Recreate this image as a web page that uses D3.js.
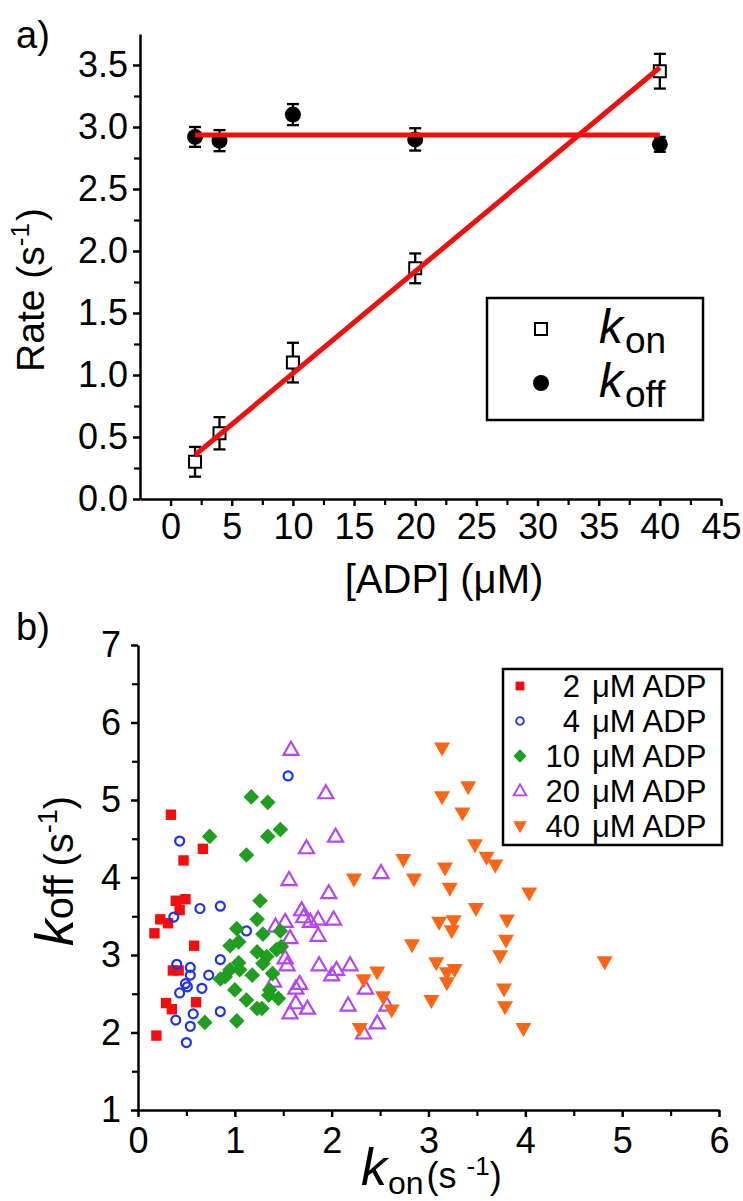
<!DOCTYPE html>
<meta charset="utf-8">
<style>
  body { margin: 0; background: #fff; }
  svg { display: block; font-family: "Liberation Sans", Arial, Helvetica, sans-serif; }
</style>
<svg width="743" height="1201"></svg>
<script src="https://d3js.org/d3.v7.min.js"></script>
<script>
// panel a: rates vs [ADP]
var adp = [2, 4, 10, 20, 40]
var konRate = [0.30, 0.53, 1.10, 1.86, 3.45]
var konErr = [0.12, 0.13, 0.16, 0.12, 0.14]
var koffRate = [2.92, 2.89, 3.10, 2.90, 2.86]
var koffErr = [0.08, 0.085, 0.085, 0.09, 0.06]
var konFit = [[2, 0.355], [40, 3.48]]
var koffFit = [[2, 2.935], [40, 2.935]]

// panel b: single-molecule kon / koff pairs per [ADP]
var adpLabels = ['2', '4', '10', '20', '40']
var pts2 = [[0.34,4.81],[0.67,4.37],[0.47,4.22],[0.39,3.70],[0.49,3.72],[0.43,3.58],[0.23,3.46],[0.31,3.41],
  [0.17,3.28],[0.58,3.12],[0.36,2.80],[0.42,2.80],[0.29,2.38],[0.35,2.30],[0.60,2.39],[0.19,1.96]]
var pts4 = [[1.55,5.31],[0.43,4.47],[0.37,3.49],[0.64,3.60],[0.85,3.63],[1.12,3.31],[0.40,2.88],[0.54,2.84],
  [0.54,2.74],[0.73,2.74],[0.85,2.94],[0.49,2.63],[0.51,2.59],[0.43,2.51],[0.66,2.57],[0.57,2.24],
  [0.85,2.27],[0.39,2.16],[0.54,2.08],[0.50,1.87]]
var pts10 = [[1.17,5.04],[1.34,4.97],[0.74,4.53],[1.12,4.29],[1.34,4.53],[1.47,4.62],[1.26,3.70],[1.23,3.46],
  [1.02,3.34],[1.29,3.27],[1.47,3.31],[0.95,3.12],[1.04,3.17],[1.23,3.04],[1.33,2.98],[1.43,3.07],
  [1.48,3.11],[1.29,2.89],[1.04,2.90],[0.95,2.81],[0.90,2.72],[1.05,2.81],[1.18,2.74],[1.39,2.76],
  [0.85,2.69],[1.00,2.55],[1.12,2.42],[1.23,2.31],[1.28,2.31],[1.36,2.55],[1.35,2.48],[1.45,2.44],
  [0.69,2.13],[1.02,2.15]]
var pts20 = [[1.58,5.65],[1.94,5.09],[1.74,4.38],[2.04,4.53],[1.56,3.97],[2.51,4.06],[1.97,3.80],[1.69,3.58],
  [1.71,3.49],[1.78,3.43],[1.86,3.46],[2.02,3.46],[1.86,3.25],[1.57,3.22],[1.52,3.43],[1.42,3.37],
  [1.52,2.96],[1.54,2.87],[1.87,2.87],[2.00,2.74],[2.05,2.81],[2.19,2.87],[2.35,2.57],[1.67,2.63],
  [1.63,2.57],[1.63,2.38],[1.75,2.31],[1.57,2.25],[2.17,2.35],[2.47,2.12],[2.33,1.99],[2.57,2.35],
  [1.40,2.66]]
var pts40 = [[3.14,5.67],[3.41,5.17],[3.14,5.04],[3.35,4.83],[3.48,4.42],[3.60,4.26],[3.69,4.16],[2.74,4.23],
  [3.17,4.12],[2.23,3.98],[2.85,3.98],[3.22,3.86],[4.04,3.80],[3.49,3.60],[3.81,3.45],[3.11,3.42],
  [3.26,3.44],[3.24,3.31],[3.80,3.19],[2.83,3.13],[3.74,2.99],[3.08,2.90],[3.27,2.81],[3.19,2.77],
  [3.19,2.64],[4.82,2.91],[3.78,2.56],[3.03,2.41],[3.79,2.33],[3.98,2.05],[2.47,2.78],[2.33,2.68],
  [2.53,2.46],[2.62,2.29],[2.29,2.05]]

var svg = d3.select('svg')
var red = '#f50d0d', blue = '#1f34e6', green = '#1f9e1f', purple = '#b445f0', orange = '#fb6616'

function square(s) { return 'M' + (-s) + ',' + (-s) + 'H' + s + 'V' + s + 'H' + (-s) + 'Z' }
function diamond(s) { return 'M0,' + (-s) + 'L' + s + ',0L0,' + s + 'L' + (-s) + ',0Z' }
function triUp(w, h) { return 'M0,' + (-h * 0.6) + 'L' + (w / 2) + ',' + (h * 0.4) + 'L' + (-w / 2) + ',' + (h * 0.4) + 'Z' }
function triDown(w, h) { return 'M0,' + (h * 0.6) + 'L' + (w / 2) + ',' + (-h * 0.4) + 'L' + (-w / 2) + ',' + (-h * 0.4) + 'Z' }

function styleAxis(g) {
  g.attr('font-size', 36).attr('font-family', null)
  g.select('.domain').attr('stroke-width', 2.5).attr('stroke', '#000')
  g.selectAll('.tick line').attr('stroke-width', 2.5).attr('stroke', '#000')
  g.selectAll('.tick text').attr('fill', '#000')
}
function minor(g) {
  g.select('.domain').remove()
  g.selectAll('.tick line').attr('stroke-width', 2.2).attr('stroke', '#000')
}

// ---------- panel a ----------
var xA = d3.scaleLinear().domain([-2.5, 45]).range([140, 721])
var yA = d3.scaleLinear().domain([0, 3.75]).range([499, 34])

svg.append('g').attr('transform', 'translate(0,499)')
  .call(d3.axisBottom(xA).tickValues(d3.range(2.5, 45, 5)).tickFormat('').tickSize(6)).call(minor)
svg.append('g').attr('transform', 'translate(140,0)')
  .call(d3.axisLeft(yA).tickValues(d3.range(0.25, 3.75, 0.5)).tickFormat('').tickSize(6)).call(minor)
svg.append('g').attr('transform', 'translate(0,499)')
  .call(d3.axisBottom(xA).tickValues(d3.range(0, 46, 5)).tickSize(7).tickSizeOuter(0).tickPadding(7))
  .call(styleAxis)
svg.append('g').attr('transform', 'translate(140,0)')
  .call(d3.axisLeft(yA).tickValues(d3.range(0, 3.6, 0.5)).tickFormat(d3.format('.1f')).tickSize(7).tickSizeOuter(0).tickPadding(5))
  .call(styleAxis)

var errG = svg.append('g').attr('stroke', '#000').attr('stroke-width', 2.3)
function errorBars(vals, errs) {
  adp.forEach(function (x, i) {
    var cx = xA(x), lo = yA(vals[i] - errs[i]), hi = yA(vals[i] + errs[i])
    errG.append('line').attr('x1', cx).attr('x2', cx).attr('y1', lo).attr('y2', hi)
    errG.append('line').attr('x1', cx - 6).attr('x2', cx + 6).attr('y1', lo).attr('y2', lo)
    errG.append('line').attr('x1', cx - 6).attr('x2', cx + 6).attr('y1', hi).attr('y2', hi)
  })
}
errorBars(konRate, konErr)
errorBars(koffRate, koffErr)

svg.append('g').selectAll('path').data(adp).enter().append('path')
  .attr('d', square(6))
  .attr('transform', function (d, i) { return 'translate(' + xA(d) + ',' + yA(konRate[i]) + ')' })
  .attr('fill', '#fff').attr('stroke', '#000').attr('stroke-width', 2)
svg.append('g').selectAll('circle').data(adp).enter().append('circle')
  .attr('cx', function (d) { return xA(d) })
  .attr('cy', function (d, i) { return yA(koffRate[i]) })
  .attr('r', 8).attr('fill', '#000')

var line = d3.line().x(function (d) { return xA(d[0]) }).y(function (d) { return yA(d[1]) })
svg.append('path').attr('d', line(konFit)).attr('stroke', red).attr('stroke-width', 5).attr('fill', 'none')
svg.append('path').attr('d', line(koffFit)).attr('stroke', red).attr('stroke-width', 5).attr('fill', 'none')

// legend a
var legA = svg.append('g')
legA.append('rect').attr('x', 487).attr('y', 298).attr('width', 216).attr('height', 122)
  .attr('fill', '#fff').attr('stroke', '#000').attr('stroke-width', 2.5)
legA.append('path').attr('d', square(6)).attr('transform', 'translate(541,329)')
  .attr('fill', '#fff').attr('stroke', '#000').attr('stroke-width', 2)
legA.append('circle').attr('cx', 541).attr('cy', 383).attr('r', 8).attr('fill', '#000')
var t1 = legA.append('text').attr('x', 599).attr('y', 343)
t1.append('tspan').attr('font-size', 48).attr('font-style', 'italic').text('k')
t1.append('tspan').attr('font-size', 37).attr('dy', 10).attr('dx', 2).text('on')
var t2 = legA.append('text').attr('x', 599).attr('y', 397)
t2.append('tspan').attr('font-size', 48).attr('font-style', 'italic').text('k')
t2.append('tspan').attr('font-size', 37).attr('dy', 10).attr('dx', 2).text('off')

svg.append('text').attr('x', 444).attr('y', 593).attr('text-anchor', 'middle').attr('font-size', 40).text('[ADP] (\u03bcM)')
var rl = svg.append('text').attr('transform', 'translate(44,290) rotate(-90)').attr('text-anchor', 'middle').attr('font-size', 39)
rl.append('tspan').text('Rate (s')
rl.append('tspan').attr('font-size', 26).attr('dy', -15).text('-1')
rl.append('tspan').attr('dy', 15).attr('dx', 2).text(')')
svg.append('text').attr('x', 16).attr('y', 48).attr('font-size', 38).text('a)')

// ---------- panel b ----------
var xB = d3.scaleLinear().domain([0, 6]).range([138, 719])
var yB = d3.scaleLinear().domain([1, 7]).range([1110, 645])

svg.append('g').attr('transform', 'translate(0,1110)')
  .call(d3.axisBottom(xB).tickValues(d3.range(0.5, 6, 1)).tickFormat('').tickSize(6)).call(minor)
svg.append('g').attr('transform', 'translate(138,0)')
  .call(d3.axisLeft(yB).tickValues(d3.range(1.5, 7, 1)).tickFormat('').tickSize(6)).call(minor)
svg.append('g').attr('transform', 'translate(0,1110)')
  .call(d3.axisBottom(xB).tickValues(d3.range(0, 7, 1)).tickFormat(d3.format('d')).tickSize(7).tickSizeOuter(0).tickPadding(10))
  .call(styleAxis)
svg.append('g').attr('transform', 'translate(138,0)')
  .call(d3.axisLeft(yB).tickValues(d3.range(1, 8, 1)).tickFormat(d3.format('d')).tickSize(7).tickSizeOuter(0).tickPadding(10))
  .call(styleAxis)

function place(d) { return 'translate(' + xB(d[0]) + ',' + yB(d[1]) + ')' }
var series = [
  { pts: pts20, d: triUp(15, 13), fill: 'none', stroke: purple, sw: 2.2 },
  { pts: pts2, d: square(5.2), fill: red, stroke: 'none', sw: 0 },
  { pts: pts4, d: d3.arc()({ innerRadius: 0, outerRadius: 4.5, startAngle: 0, endAngle: 2 * Math.PI }), fill: 'none', stroke: blue, sw: 2.2 },
  { pts: pts10, d: diamond(7.8), fill: green, stroke: 'none', sw: 0 },
  { pts: pts40, d: triDown(16, 14), fill: orange, stroke: 'none', sw: 0 }
]
series.forEach(function (s) {
  svg.append('g').selectAll('path').data(s.pts).enter().append('path')
    .attr('d', s.d).attr('transform', place)
    .attr('fill', s.fill).attr('stroke', s.stroke).attr('stroke-width', s.sw)
})

// legend b: numbers column + unit column
var legB = svg.append('g')
legB.append('rect').attr('x', 503).attr('y', 669).attr('width', 219).attr('height', 176)
  .attr('fill', '#fff').attr('stroke', '#000').attr('stroke-width', 2.5)
var legSeries = [series[1], series[2], series[3], series[0], series[4]]
var rowY = [686, 721, 756, 791, 826]
legSeries.forEach(function (s, i) {
  legB.append('path').attr('d', s.d).attr('transform', 'translate(520,' + rowY[i] + ') scale(0.85)')
    .attr('fill', s.fill).attr('stroke', s.stroke).attr('stroke-width', s.sw)
})
var numCol = legB.append('text').attr('text-anchor', 'end').attr('font-size', 31)
var unitCol = legB.append('text').attr('font-size', 31)
adpLabels.forEach(function (lab, i) {
  numCol.append('tspan').attr('x', 580).attr('y', rowY[i] + 11).text(lab)
  unitCol.append('tspan').attr('x', 592).attr('y', rowY[i] + 11).text('\u03bcM ADP')
})

var xl = svg.append('text').attr('x', 361).attr('y', 1185)
xl.append('tspan').attr('font-size', 52).attr('font-style', 'italic').text('k')
xl.append('tspan').attr('font-size', 32).attr('dy', 9).attr('dx', 1).text('on')
xl.append('tspan').attr('font-size', 36).attr('dy', -6).attr('dx', 3).text('(s')
xl.append('tspan').attr('font-size', 26).attr('dy', -13).attr('dx', 10).text('-1')
xl.append('tspan').attr('font-size', 36).attr('dy', 13).text(')')

var yl = svg.append('text').attr('transform', 'translate(73,871) rotate(-90)').attr('text-anchor', 'middle')
yl.append('tspan').attr('font-size', 54).attr('font-style', 'italic').text('k')
yl.append('tspan').attr('font-size', 40).text('off')
yl.append('tspan').attr('font-size', 40).attr('dx', 9).text('(s')
yl.append('tspan').attr('font-size', 27).attr('dy', -16).text('-1')
yl.append('tspan').attr('font-size', 40).attr('dy', 16).text(')')
svg.append('text').attr('x', 16).attr('y', 640).attr('font-size', 38).text('b)')
</script>
